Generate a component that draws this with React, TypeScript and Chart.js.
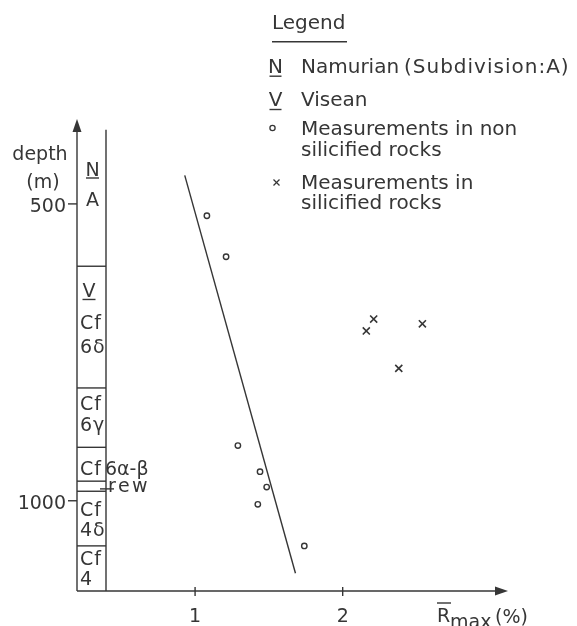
import { useEffect, useRef } from "react";
import { Chart, registerables } from "chart.js";

Chart.register(...registerables);

// ---- data ----
const nonSilicifiedR = [1.08, 1.21, 1.29, 1.44, 1.485, 1.425, 1.74];
const nonSilicifiedDepth = [520, 589, 907, 951, 977, 1006, 1076];
const silicifiedR = [2.21, 2.16, 2.54, 2.38];
const silicifiedDepth = [694, 714, 702, 777];
const trendLineR = [0.93, 1.68];
const trendLineDepth = [452, 1122];
const xTickValues = [1, 2];
const yTickValues = [500, 1000];
const xAxisRange = [0.2, 3.12];
const depthAxisRange = [357, 1152];
const columnTopDepth = 375;
const columnBoundaryDepths = [605, 810, 910, 967, 984, 1076];
const columnLabels = ["N", "A", "V", "Cf", "6δ", "Cf", "6γ", "Cf", "6α-β", "rew", "Cf", "4δ", "Cf", "4"];
const columnLabelDepths = [453, 503.5, 657.6, 710.7, 751, 847, 883, 957, 957, 986, 1025.5, 1059, 1108, 1142];
const rewDepth = 980;
const legendTitle = "Legend";
const legendRows = [
  { marker: "N", lines: ["Namurian", "(Subdivision:A)"] },
  { marker: "V", lines: ["Visean"] },
  { marker: "o", lines: ["Measurements in non", "silicified rocks"] },
  { marker: "x", lines: ["Measurements in", "silicified rocks"] },
];

const INK = "#363636";
const AXIS_FONT = '19px "DejaVu Sans"';
const LEGEND_FONT = '20px "DejaVu Sans"';

const figurePlugin = {
  id: "figurePlugin",
  beforeDraw(chart: any) {
    const { ctx, width, height } = chart;
    ctx.save();
    ctx.fillStyle = "#ffffff";
    ctx.fillRect(0, 0, width, height);
    ctx.restore();
  },
  afterDraw(chart: any) {
    const { ctx } = chart;
    const xs = chart.scales.x;
    const ys = chart.scales.y;
    const x0 = xs.getPixelForValue(xAxisRange[0]);
    const xEnd = xs.getPixelForValue(xAxisRange[1]);
    const yBottom = ys.getPixelForValue(depthAxisRange[1]);
    const yTop = ys.getPixelForValue(depthAxisRange[0]);
    const line = (a: number, b: number, c: number, d: number) => {
      ctx.beginPath();
      ctx.moveTo(a, b);
      ctx.lineTo(c, d);
      ctx.stroke();
    };
    const text = (t: string, px: number, py: number, align: CanvasTextAlign = "left", spacing = "0px") => {
      (ctx as any).letterSpacing = spacing;
      ctx.textAlign = align;
      ctx.fillText(t, px, py);
      (ctx as any).letterSpacing = "0px";
    };
    ctx.save();
    ctx.strokeStyle = INK;
    ctx.fillStyle = INK;
    ctx.lineWidth = 1.4;
    ctx.textBaseline = "alphabetic";

    // axes
    line(x0, yBottom, x0, yTop + 10);
    line(x0, yBottom, xEnd - 10, yBottom);
    ctx.beginPath();
    ctx.moveTo(x0, yTop);
    ctx.lineTo(x0 - 4.5, yTop + 13);
    ctx.lineTo(x0 + 4.5, yTop + 13);
    ctx.closePath();
    ctx.fill();
    ctx.beginPath();
    ctx.moveTo(xEnd, yBottom);
    ctx.lineTo(xEnd - 13, yBottom - 4.5);
    ctx.lineTo(xEnd - 13, yBottom + 4.5);
    ctx.closePath();
    ctx.fill();

    ctx.font = AXIS_FONT;
    // x ticks
    xTickValues.forEach((v) => {
      const px = xs.getPixelForValue(v);
      line(px, yBottom - 4, px, yBottom + 5);
      text(String(v), px, yBottom + 31, "center");
    });
    // y ticks
    yTickValues.forEach((v) => {
      const py = ys.getPixelForValue(v);
      line(x0 - 9, py, x0, py);
      text(String(v), x0 - 11, py + 8.5, "right");
    });
    // axis titles
    text("depth", 40, 160, "center");
    text("(m)", 43, 188, "center");
    // R max (%)
    text("R", 437, yBottom + 31, "left");
    line(437, yBottom + 12, 451, yBottom + 12);
    text("max", 450, yBottom + 37, "left");
    text("(%)", 495, yBottom + 32, "left");

    // stratigraphic column
    const colRight = x0 + 29;
    line(colRight, ys.getPixelForValue(columnTopDepth), colRight, yBottom);
    columnBoundaryDepths.forEach((d) => {
      const py = ys.getPixelForValue(d);
      line(x0, py, colRight, py);
    });
    const rewY = ys.getPixelForValue(rewDepth);
    line(colRight - 6, rewY, colRight + 8, rewY);
    columnLabels.forEach((t, i) => {
      const py = ys.getPixelForValue(columnLabelDepths[i]);
      if (t === "N" || t === "A" || t === "V") {
        const cx = t === "V" ? x0 + 12 : x0 + 15.5;
        text(t, cx, py, "center");
        if (t !== "A") line(cx - 6.5, py + 2, cx + 6.5, py + 2);
      } else if (t === "6α-β") {
        text(t, x0 + 28, py, "left");
      } else if (t === "rew") {
        text(t, x0 + 31, py, "left", "2.5px");
      } else {
        text(t, x0 + 3, py, "left", "1px");
      }
    });

    // legend
    ctx.font = LEGEND_FONT;
    text(legendTitle, 272, 29.3, "left");
    line(272, 41.7, 347, 41.7);
    const rowBaselines = [[72.7], [106], [135, 156], [189, 209]];
    legendRows.forEach((row, i) => {
      const bl = rowBaselines[i];
      if (row.marker === "N" || row.marker === "V") {
        text(row.marker, 275.5, bl[0], "center");
        line(269.5, bl[0] + 3.5, 281.5, bl[0] + 3.5);
      } else if (row.marker === "o") {
        ctx.lineWidth = 1.3;
        ctx.beginPath();
        ctx.arc(272.5, 128, 2.6, 0, Math.PI * 2);
        ctx.stroke();
      } else {
        ctx.lineWidth = 1.3;
        line(273.5, 179.5, 279.5, 185.5);
        line(279.5, 179.5, 273.5, 185.5);
      }
      ctx.lineWidth = 1.4;
      if (row.marker === "N") {
        text(row.lines[0], 301, bl[0], "left");
        text(row.lines[1], 404, bl[0], "left", "1px");
      } else {
        row.lines.forEach((l, j) => text(l, 301, bl[j], "left"));
      }
    });
    ctx.restore();
  },
};

export default function App() {
  const canvasRef = useRef<HTMLCanvasElement | null>(null);
  useEffect(() => {
    if (!canvasRef.current) return;
    const chart = new Chart(canvasRef.current, {
      type: "scatter",
      data: {
        datasets: [
          {
            type: "line",
            data: trendLineR.map((r, i) => ({ x: r, y: trendLineDepth[i] })),
            borderColor: INK,
            borderWidth: 1.4,
            pointRadius: 0,
            fill: false,
            showLine: true,
          } as any,
          {
            data: nonSilicifiedR.map((r, i) => ({ x: r, y: nonSilicifiedDepth[i] })),
            pointStyle: "circle",
            pointRadius: 2.7,
            borderWidth: 1.4,
            borderColor: INK,
            backgroundColor: "rgba(255,255,255,0)",
          },
          {
            data: silicifiedR.map((r, i) => ({ x: r, y: silicifiedDepth[i] })),
            pointStyle: "crossRot",
            pointRadius: 5,
            borderWidth: 1.6,
            borderColor: INK,
            backgroundColor: INK,
          },
        ],
      },
      options: {
        responsive: false,
        animation: false,
        layout: { padding: { left: 77, right: 69, top: 119, bottom: 35 } },
        scales: {
          x: { type: "linear", min: xAxisRange[0], max: xAxisRange[1], display: false },
          y: { type: "linear", min: depthAxisRange[0], max: depthAxisRange[1], reverse: true, display: false },
        },
        plugins: { legend: { display: false }, tooltip: { enabled: false } },
      },
      plugins: [figurePlugin],
    });
    return () => chart.destroy();
  }, []);
  return (
    <div style={{ position: "fixed", left: 0, top: 0, width: 577, height: 626, background: "#fff" }}>
      <canvas ref={canvasRef} width={577} height={626} style={{ display: "block" }} />
    </div>
  );
}
